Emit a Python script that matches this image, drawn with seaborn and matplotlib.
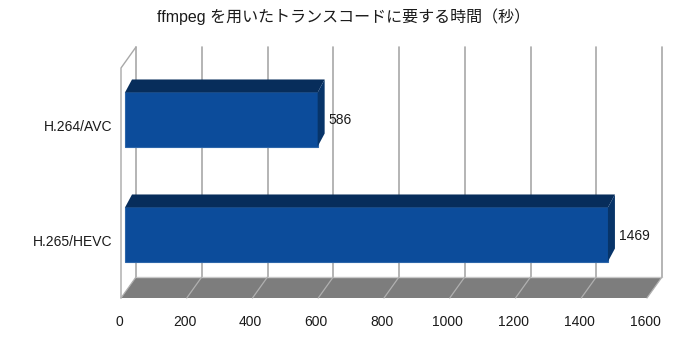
import numpy as np
import pandas as pd
import seaborn as sns
import matplotlib.pyplot as plt
from matplotlib.patches import Polygon
from matplotlib.transforms import ScaledTranslation

# data
codecs = ["H.264/AVC", "H.265/HEVC"]
seconds = [586, 1469]
x_ticks = [0, 200, 400, 600, 800, 1000, 1200, 1400, 1600]
title = "ffmpeg を用いたトランスコードに要する時間（秒）"

sns.set_theme(style="white")
plt.rcParams["font.family"] = ["Liberation Sans", "Noto Sans CJK JP", "DejaVu Sans"]

FRONT = "#0c4c9b"
TOP = "#072d5b"
SIDE = "#073469"
GRID = "#a8a8a8"
FLOOR = "#7d7d7d"
TEXT = "#1a1a1a"

# oblique 3d offsets in pixels (dx, dy up)
DEPTH = (15, 21)
BAR_FRONT = (4, 6)
BAR_BACK = (11, 19)

fig = plt.figure(figsize=(7, 3.53), dpi=100)
ax = fig.add_axes([121 / 700, 1 - 298 / 353, 526 / 700, 230 / 353])

df = pd.DataFrame({"codec": codecs, "seconds": seconds})
sns.barplot(data=df, x="seconds", y="codec", orient="h", width=0.47,
            color=FRONT, saturation=1, edgecolor="#2d66aa", linewidth=0.8,
            ax=ax, zorder=3)
ax.set_xlim(0, 1600)
ax.set_ylim(1.5, -0.5)
ax.axis("off")


def shift(dx, dy):
    return ax.transData + ScaledTranslation(dx / 100, dy / 100, fig.dpi_scale_trans)


def fpt(x, y, d=(0, 0)):
    p = ax.transData.transform((x, y)) + np.array(d)
    return fig.transFigure.inverted().transform(p)


# floor
floor = [fpt(0, 1.5), fpt(1600, 1.5), fpt(1600, 1.5, DEPTH), fpt(0, 1.5, DEPTH)]
ax.add_patch(Polygon(floor, closed=True, facecolor=FLOOR, edgecolor="none",
                     transform=fig.transFigure, clip_on=False, zorder=1))
ax.plot([0, 1600], [1.5, 1.5], transform=shift(*DEPTH), color="#c8c8c8",
        lw=1.0, clip_on=False, zorder=1.5)

# back wall grid + floor lines
for t in x_ticks:
    ax.plot([t, t], [1.5, -0.5], transform=shift(*DEPTH), color=GRID,
            lw=1.2, clip_on=False, zorder=1)
    a, b = fpt(t, 1.5), fpt(t, 1.5, DEPTH)
    ax.plot([a[0], b[0]], [a[1], b[1]], transform=fig.transFigure,
            color="#b0b0b0", lw=0.9, clip_on=False, zorder=1.5)

# left wall outline
w = [fpt(0, 1.5), fpt(0, -0.5), fpt(0, -0.5, DEPTH)]
ax.plot([p[0] for p in w], [p[1] for p in w], transform=fig.transFigure,
        color=GRID, lw=1.0, clip_on=False, zorder=1)

# 3d bars
bars = list(ax.patches)[:len(codecs)]
for bar in bars:
    x0, y0 = bar.get_x(), bar.get_y()
    bw, bh = bar.get_width(), bar.get_height()
    bar.set_transform(shift(*BAR_FRONT))
    bar.set_clip_on(False)
    top = [fpt(x0, y0, BAR_FRONT), fpt(x0 + bw, y0, BAR_FRONT),
           fpt(x0 + bw, y0, BAR_BACK), fpt(x0, y0, BAR_BACK)]
    side = [fpt(x0 + bw, y0, BAR_FRONT), fpt(x0 + bw, y0 + bh, BAR_FRONT),
            fpt(x0 + bw, y0 + bh, BAR_BACK), fpt(x0 + bw, y0, BAR_BACK)]
    ax.add_patch(Polygon(top, closed=True, facecolor=TOP, edgecolor="none",
                         transform=fig.transFigure, clip_on=False, zorder=3))
    ax.add_patch(Polygon(side, closed=True, facecolor=SIDE, edgecolor="none",
                         transform=fig.transFigure, clip_on=False, zorder=3))

# value labels
for i, v in enumerate(seconds):
    ax.text(v, i, str(v), transform=shift(BAR_BACK[0] + 4, BAR_FRONT[1] - 1),
            ha="left", va="center", fontsize=10, color=TEXT, clip_on=False)

# category labels
for i, c in enumerate(codecs):
    ax.text(0, i, c, transform=shift(-9, -1.5), ha="right", va="center",
            fontsize=10, color=TEXT, clip_on=False)

# value axis labels
for t in x_ticks:
    ax.text(t, 1.5, str(t), transform=shift(-2, -24), ha="center", va="center",
            fontsize=10, color=TEXT, clip_on=False)

fig.text(344 / 700, 1 - 17 / 353, title, ha="center", va="center",
         fontsize=11.5, color=TEXT)

fig.savefig("out.png", dpi=100)
